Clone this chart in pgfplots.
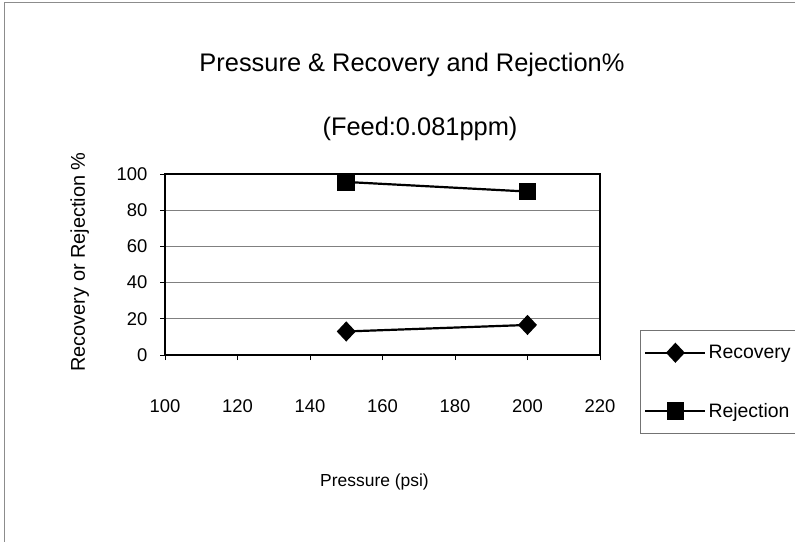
\documentclass[border=0pt]{standalone}
\usepackage{pgfplots}
\pgfplotsset{compat=1.18}
\usepackage{fontspec}
\setmainfont{Liberation Sans}
\begin{document}
\begin{tikzpicture}
\useasboundingbox (0bp,0bp) rectangle (795bp,542bp);
\draw[black!45, line width=0.6bp] (4bp,0bp) -- (4bp,540bp) -- (795bp,540bp);
\node[anchor=base, font=\fontsize{25.5}{28}\selectfont] at (412bp,470bp) {Pressure \& Recovery and Rejection\%};
\node[anchor=base, font=\fontsize{25.5}{28}\selectfont] at (420bp,406bp) {(Feed:0.081ppm)};
\begin{axis}[
  at={(165bp,187bp)}, anchor=south west,
  scale only axis, width=435bp, height=181bp,
  xmin=100, xmax=220, ymin=0, ymax=100,
  xtick={100,120,...,220}, ytick={0,20,...,100},
  xtick pos=bottom, ytick pos=left,
  /pgf/number format/assume math mode=true,
  tick align=outside, major tick length=5bp,
  tick style={black, line width=0.8bp},
  axis line style={black, line width=2bp},
  ymajorgrids, major grid style={black!50, line width=0.6bp},
  ticklabel style={font=\fontsize{18.5}{20}\selectfont},
  xticklabel style={anchor=base, yshift=-52bp},
  yticklabel style={anchor=east, xshift=-9bp},
  every axis x label/.style={at={(axis description cs:0.4816,-0.729)}, anchor=base, font=\fontsize{17.5}{20}\selectfont},
  every axis y label/.style={at={(axis description cs:-0.184,0.514)}, rotate=90, anchor=base, font=\fontsize{20}{22}\selectfont},
  xlabel={Pressure (psi)},
  ylabel={Recovery or Rejection \%},
  legend style={at={(axis description cs:1.092,0.138)}, anchor=north west,
    draw=black!55, line width=0.6bp, font=\fontsize{19.5}{22}\selectfont,
    inner xsep=4bp, inner ysep=13bp, row sep=39bp, cells={anchor=west}},
  legend image code/.code={\draw[mark repeat=2,mark phase=2,#1] plot coordinates {(0bp,0bp) (30bp,0bp) (60bp,0bp)};},
]
\addplot[black, line width=2.2bp, mark=diamond*, mark size=8.5bp, mark options={solid, xscale=1.25}] coordinates {(150,13.0) (200,16.6)};
\addlegendentry{Recovery}
\addplot[black, line width=2.2bp, mark=square*, mark size=7.8bp, mark options={solid}] coordinates {(150,95.6) (200,90.3)};
\addlegendentry{Rejection}
\end{axis}
\end{tikzpicture}
\end{document}
